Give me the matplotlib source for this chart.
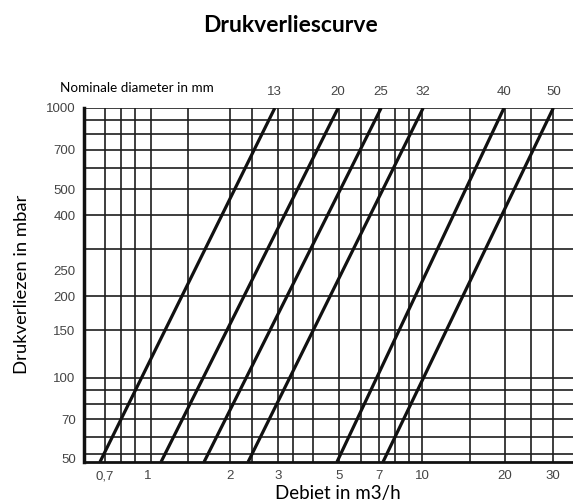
import matplotlib
matplotlib.use('Agg')
import matplotlib.pyplot as plt
import numpy as np

# nominale diameter (mm) en debiet (m3/h) bij 1000 mbar en bij de onderrand
diameters = ['13', '20', '25', '32', '40', '50']
flow_top = [2.91, 4.95, 7.10, 10.1, 19.9, 30.1]
flow_bottom = [0.671, 1.12, 1.607, 2.325, 4.90, 7.21]
p_top = 1000
p_bottom = 48.6

x_ticks = [0.7, 1, 2, 3, 5, 7, 10, 20, 30]
x_ticklabels = ['0,7', '1', '2', '3', '5', '7', '10', '20', '30']
y_ticks = [50, 70, 100, 150, 200, 250, 400, 500, 700, 1000]

x_grid = [0.7, 0.8, 0.9, 1.03, 1.4, 2, 2.4, 3, 3.4, 4, 5, 6, 7, 8, 9, 10, 15, 20, 25, 30]
y_grid = [52, 60, 70, 80, 90, 100, 150, 200, 300, 400, 500, 600, 700, 800, 900, 1000]

fig = plt.figure(figsize=(5.73, 5.04), dpi=100)
ax = fig.add_axes([84/573, 1-462/504, 1-84/573, (462-108)/504])
ax.set_xscale('log')
ax.set_yscale('log')
ax.set_xlim(0.587, 35.5)
ax.set_ylim(p_bottom, p_top)

for gx in x_grid:
    ax.axvline(gx, color='#1e1e1e', lw=1.2, zorder=1)
for gy in y_grid:
    ax.axhline(gy, color='#1e1e1e', lw=1.2, zorder=1)

for i in range(len(diameters)):
    ax.plot([flow_bottom[i], flow_top[i]], [p_bottom, p_top], color='#111111', lw=2.3,
            solid_capstyle='butt', zorder=3)
    ax.annotate(diameters[i], (flow_top[i], p_top), xytext=(0, 11.5),
                textcoords='offset points', ha='center', va='center',
                fontsize=9.5, color='#444444', family='Liberation Sans', annotation_clip=False)

ax.xaxis.set_minor_locator(matplotlib.ticker.NullLocator())
ax.yaxis.set_minor_locator(matplotlib.ticker.NullLocator())
ax.set_xticks(x_ticks)
ax.set_xticklabels(x_ticklabels)
ax.set_yticks(y_ticks)
ax.set_yticklabels([str(v) for v in y_ticks])
ax.tick_params(length=0, pad=6, labelsize=9.5, labelcolor='#444444')
for lab in ax.get_xticklabels() + ax.get_yticklabels():
    lab.set_family('Liberation Sans')

ax.spines['top'].set_visible(False)
ax.spines['right'].set_visible(False)
ax.spines['left'].set_linewidth(2.5)
ax.spines['bottom'].set_linewidth(2.0)
ax.spines['left'].set_color('#111111')
ax.spines['bottom'].set_color('#111111')

fig.text(290/573, 1-25/504, 'Drukverliescurve', ha='center', va='center',
         fontsize=16.5, fontweight='bold', family='Lato')
fig.text(60/573, 1-88/504, 'Nominale diameter in mm', ha='left', va='center',
         fontsize=9.7, family='Lato')
fig.text(338/573, 1-493/504, 'Debiet in m3/h', ha='center', va='center',
         fontsize=13.5, family='Lato')
fig.text(22/573, 1-284/504, 'Drukverliezen in mbar', ha='center', va='center',
         rotation=90, fontsize=13.3, family='Lato')

fig.savefig('out.png', dpi=100)
